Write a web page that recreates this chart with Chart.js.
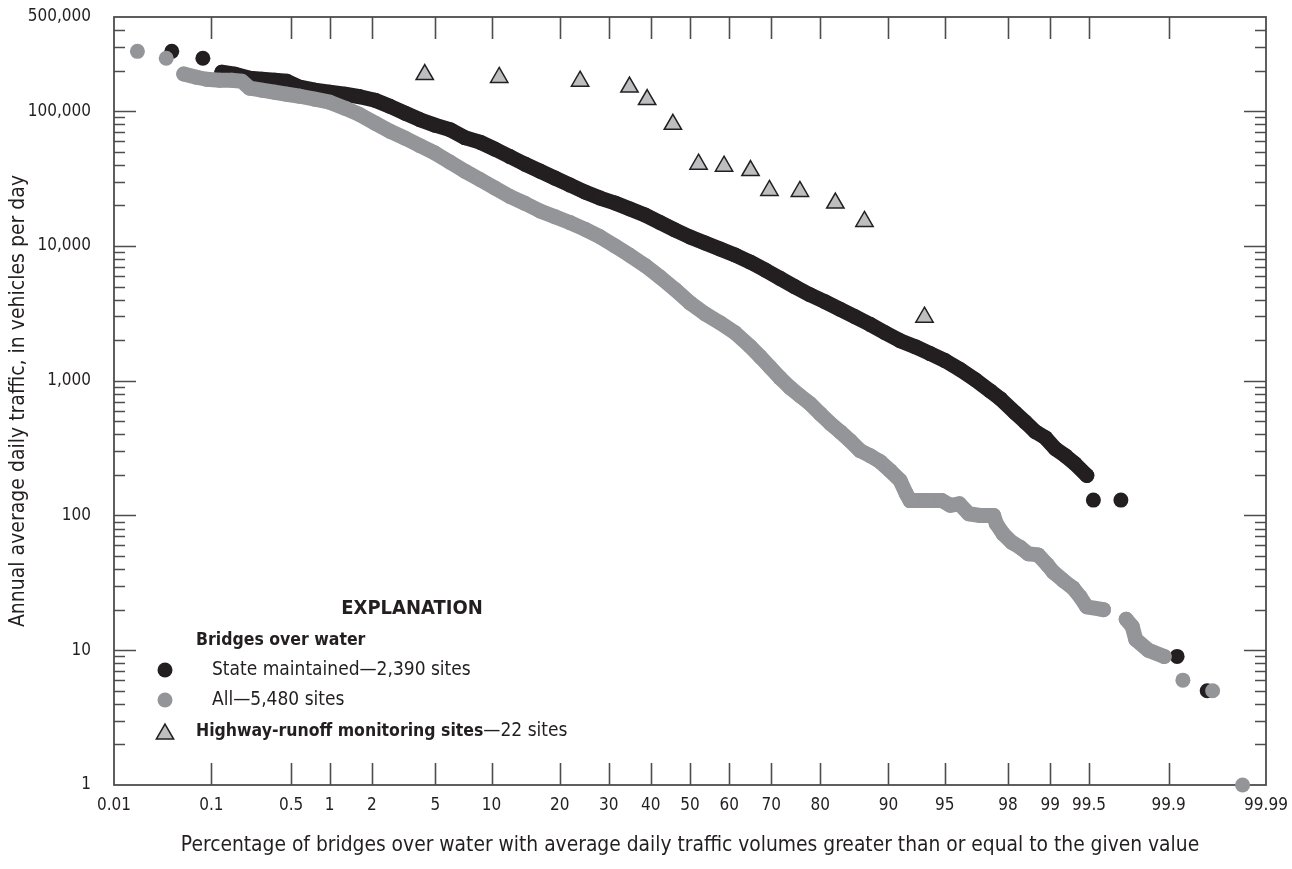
<!DOCTYPE html>
<html>
<head>
<meta charset="utf-8">
<title>Annual average daily traffic at bridges over water</title>
<script src="https://cdn.jsdelivr.net/npm/chart.js@4.4.1/dist/chart.umd.min.js"></script>
<style>
  html, body { margin: 0; padding: 0; background: #ffffff; }
  #wrap { width: 1292px; height: 869px; position: relative; }
</style>
</head>
<body>
<div id="wrap"><canvas id="chart" width="1292" height="869"></canvas></div>
<script>
// ---- Data: exceedance percentage (%) and annual average daily traffic (vehicles/day)

// Bridges over water, state maintained (2,390 sites)
const stateMaintainedPct = [0.041, 0.083, 0.125, 0.165, 0.224, 0.285, 0.367, 0.462, 0.588, 0.772,
  1.0, 1.294, 1.653, 2.10, 2.63, 3.29, 4.06, 4.98, 6.06, 7.30,
  8.75, 10.39, 12.25, 14.33, 16.64, 19.17, 21.92, 24.88, 28.06, 31.40,
  34.93, 38.57, 42.31, 46.14, 50.0, 53.86, 57.69, 61.43, 65.07, 68.60,
  71.94, 75.12, 78.08, 80.83, 83.36, 85.67, 87.75, 89.61, 91.25, 92.70,
  93.94, 95.02, 95.94, 96.71, 97.37, 97.74, 98.21, 98.48, 98.71, 98.91,
  99.08, 99.23, 99.35, 99.48, 99.54, 99.73, 99.917, 99.958];
const stateMaintainedAdt = [278000, 247000, 194500, 188000, 175500, 172600, 169600, 166800, 150600, 143100,
  138300, 133600, 128000, 120600, 108900, 96650, 86500, 78770, 72950, 63630,
  58940, 52290, 46030, 40500, 35940, 31890, 28300, 25120, 22680, 20830,
  18800, 16970, 14940, 13140, 11660, 10530, 9500, 8580, 7610, 6640,
  5750, 4970, 4340, 3850, 3390, 2980, 2620, 2270, 1980, 1790,
  1590, 1410, 1210, 1020, 840, 736, 579, 493, 419, 378,
  314, 278, 243, 198, 130, 130, 9, 5];

// Bridges over water, all (5,480 sites)
const allBridgesPct = [0.018, 0.036, 0.054, 0.072, 0.090, 0.120, 0.154, 0.19, 0.224, 0.285,
  0.367, 0.462, 0.588, 0.772, 1.0, 1.294, 1.653, 2.10, 2.63, 3.29,
  4.06, 4.98, 6.06, 7.30, 8.75, 10.39, 12.25, 14.33, 16.64, 19.17,
  21.92, 24.88, 28.06, 31.40, 34.93, 38.57, 42.31, 46.14, 50.0, 53.86,
  57.69, 61.43, 65.07, 67.44, 69.73, 71.94, 74.09, 76.12, 78.08, 79.95,
  81.71, 83.36, 84.92, 86.39, 87.75, 89.01, 90.18, 91.25, 91.85, 92.23,
  93.6, 94.8, 95.35, 95.9, 96.4, 96.95, 97.5, 97.6, 97.84, 98.12,
  98.35, 98.55, 98.77, 98.95, 99.05, 99.20, 99.33, 99.41, 99.48, 99.62,
  99.757, 99.785, 99.80, 99.846, 99.89, 99.927, 99.963, 99.982];
const allBridgesAdt = [278000, 247000, 189000, 178600, 172600, 169600, 169600, 166800, 148100, 143100,
  138300, 133600, 129100, 122700, 116600, 105300, 94200, 81500, 71100, 63100,
  55500, 48900, 41900, 35900, 31100, 26900, 23300, 20700, 18200, 16500,
  14900, 13300, 11700, 10000, 8500, 7170, 5890, 4760, 3780, 3140,
  2690, 2270, 1800, 1510, 1260, 1050, 888, 774, 675, 570,
  484, 419, 359, 303, 278, 251, 215, 182, 146, 129,
  129, 129, 119, 122, 103, 100, 100, 87, 73, 63,
  58, 52, 51, 43, 38, 33, 29, 25, 21, 20,
  17, 15, 12, 10, 9, 6, 5, 1];

// Highway-runoff monitoring sites (22 sites)
const runoffSitesPct = [4.34, 10.9, 23.9, 34.8, 39.1, 45.6, 52.2, 58.7, 65.2, 69.6, 76.1, 82.6, 87.0, 93.5];
const runoffSitesAdt = [187000, 178000, 167000, 151000, 122000, 80000, 40400, 39100, 36300, 25800, 25400, 20800, 15200, 2960];

// Axis ticks
const xTickPercents = [0.01, 0.1, 0.5, 1, 2, 5, 10, 20, 30, 40, 50, 60, 70, 80, 90, 95, 98, 99, 99.5, 99.9, 99.99];
const xTickLabels = ['0.01', '0.1', '0.5', '1', '2', '5', '10', '20', '30', '40', '50', '60', '70', '80', '90', '95', '98', '99', '99.5', '99.9', '99.99'];
const yTickValues = [1, 10, 100, 1000, 10000, 100000, 500000];

const xTitle = 'Percentage of bridges over water with average daily traffic volumes greater than or equal to the given value';
const yTitle = 'Annual average daily traffic, in vehicles per day';

// ---- Styling
const FONT = '"DejaVu Sans Condensed", "Liberation Sans Narrow", sans-serif';
const INK = '#231f20';
const AXIS = '#4d4d4f';
const BLACK = '#231f20';
const GRAY = '#939598';
const TRI_FILL = '#bcbec0';
const DOT_R = 7.5;
const TRI_R = 10;
const MAX_JOIN = 22; // points farther apart than this (px) are not bridged by the band

// Inverse of the standard normal CDF (Acklam's rational approximation),
// used to place percentages on a normal-probability axis.
function probit(p) {
  const a = [-3.969683028665376e+01, 2.209460984245205e+02, -2.759285104469687e+02, 1.383577518672690e+02, -3.066479806614716e+01, 2.506628277459239e+00];
  const b = [-5.447609879822406e+01, 1.615858368580409e+02, -1.556989798598866e+02, 6.680131188771972e+01, -1.328068155288572e+01];
  const c = [-7.784894002430293e-03, -3.223964580411365e-01, -2.400758277161838e+00, -2.549732539343734e+00, 4.374664141464968e+00, 2.938163982698783e+00];
  const d = [7.784695709041462e-03, 3.224671290700398e-01, 2.445134137142996e+00, 3.754408661907416e+00];
  const pl = 0.02425, ph = 1 - pl;
  let q, r;
  if (p < pl) {
    q = Math.sqrt(-2 * Math.log(p));
    return (((((c[0] * q + c[1]) * q + c[2]) * q + c[3]) * q + c[4]) * q + c[5]) / ((((d[0] * q + d[1]) * q + d[2]) * q + d[3]) * q + 1);
  }
  if (p <= ph) {
    q = p - 0.5; r = q * q;
    return (((((a[0] * r + a[1]) * r + a[2]) * r + a[3]) * r + a[4]) * r + a[5]) * q / (((((b[0] * r + b[1]) * r + b[2]) * r + b[3]) * r + b[4]) * r + 1);
  }
  q = Math.sqrt(-2 * Math.log(1 - p));
  return -(((((c[0] * q + c[1]) * q + c[2]) * q + c[3]) * q + c[4]) * q + c[5]) / ((((d[0] * q + d[1]) * q + d[2]) * q + d[3]) * q + 1);
}

const toPoints = (pct, adt) => pct.map((p, i) => ({ x: probit(p / 100), y: adt[i] }));
const bandColor = color => ctx =>
  Math.hypot(ctx.p1.x - ctx.p0.x, ctx.p1.y - ctx.p0.y) > MAX_JOIN ? 'rgba(0,0,0,0)' : color;

function dotSeries(label, pct, adt, color, order) {
  return {
    label, data: toPoints(pct, adt), order,
    showLine: true, clip: false,
    borderColor: color, borderWidth: DOT_R * 2,
    borderCapStyle: 'round', borderJoinStyle: 'round',
    segment: { borderColor: bandColor(color) },
    pointStyle: 'circle', pointRadius: DOT_R, pointHoverRadius: DOT_R,
    pointBackgroundColor: color, pointBorderWidth: 0
  };
}

// ---- Frame with inward tick marks on all four sides
const frameTicks = {
  id: 'frameTicks',
  beforeDatasetsDraw(chart) {
    const { ctx, chartArea: a, scales: { x, y } } = chart;
    ctx.save();
    ctx.strokeStyle = AXIS;
    ctx.lineWidth = 1.6;
    ctx.beginPath();
    xTickPercents.slice(1, -1).forEach(p => {
      const px = Math.round(x.getPixelForValue(probit(p / 100))) + 0.5;
      ctx.moveTo(px, a.bottom); ctx.lineTo(px, a.bottom - 22);
      ctx.moveTo(px, a.top); ctx.lineTo(px, a.top + 22);
    });
    for (let dec = 1; dec <= 100000; dec *= 10) {
      for (let m = 1; m <= 9; m++) {
        const v = m * dec;
        if (v >= 500000) break;
        if (v === 1) continue;
        const len = m === 1 ? 22 : 11;
        const py = Math.round(y.getPixelForValue(v)) + 0.5;
        ctx.moveTo(a.left, py); ctx.lineTo(a.left + len, py);
        ctx.moveTo(a.right, py); ctx.lineTo(a.right - len, py);
      }
    }
    ctx.stroke();
    ctx.lineWidth = 1.8;
    ctx.strokeRect(a.left, a.top, a.right - a.left, a.bottom - a.top);
    ctx.restore();
  }
};

// ---- Explanation block
const explanation = {
  id: 'explanation',
  afterDatasetsDraw(chart) {
    const ctx = chart.ctx;
    ctx.save();
    ctx.fillStyle = INK;
    ctx.textBaseline = 'middle';
    ctx.font = `bold 20px ${FONT}`;
    ctx.textAlign = 'center';
    ctx.fillText('EXPLANATION', 412, 609);
    ctx.textAlign = 'left';
    ctx.font = `bold 17.5px ${FONT}`;
    ctx.fillText('Bridges over water', 196, 640);
    ctx.font = `19px ${FONT}`;
    ctx.fillText('State maintained\u20142,390 sites', 212, 670);
    ctx.fillText('All\u20145,480 sites', 212, 700);
    ctx.font = `bold 17.5px ${FONT}`;
    const head = 'Highway-runoff monitoring sites';
    ctx.fillText(head, 196, 731);
    const w = ctx.measureText(head).width;
    ctx.font = `19px ${FONT}`;
    ctx.fillText('\u201422 sites', 196 + w, 731);

    ctx.fillStyle = BLACK;
    ctx.beginPath(); ctx.arc(165, 670, DOT_R, 0, Math.PI * 2); ctx.fill();
    ctx.fillStyle = GRAY;
    ctx.beginPath(); ctx.arc(165, 700, DOT_R, 0, Math.PI * 2); ctx.fill();
    const cx = 165, cy = 734, r = TRI_R;
    ctx.beginPath();
    ctx.moveTo(cx, cy - r);
    ctx.lineTo(cx + r * Math.sin(2 * Math.PI / 3), cy - r * Math.cos(2 * Math.PI / 3));
    ctx.lineTo(cx + r * Math.sin(4 * Math.PI / 3), cy - r * Math.cos(4 * Math.PI / 3));
    ctx.closePath();
    ctx.fillStyle = TRI_FILL; ctx.fill();
    ctx.strokeStyle = INK; ctx.lineWidth = 1.5; ctx.stroke();
    ctx.restore();
  }
};

Chart.defaults.font.family = FONT;
Chart.defaults.color = INK;

new Chart(document.getElementById('chart'), {
  type: 'scatter',
  data: {
    datasets: [
      {
        label: 'Highway-runoff monitoring sites', order: 0, clip: false,
        data: toPoints(runoffSitesPct, runoffSitesAdt),
        pointStyle: 'triangle', pointRadius: TRI_R, pointHoverRadius: TRI_R,
        pointBackgroundColor: TRI_FILL, pointBorderColor: INK, pointBorderWidth: 1.5
      },
      dotSeries('All', allBridgesPct, allBridgesAdt, GRAY, 1),
      dotSeries('State maintained', stateMaintainedPct, stateMaintainedAdt, BLACK, 2)
    ]
  },
  options: {
    responsive: false,
    animation: false,
    events: [],
    devicePixelRatio: 1,
    layout: { padding: { top: 17, right: 26, bottom: 0, left: 0 } },
    plugins: { legend: { display: false }, tooltip: { enabled: false } },
    scales: {
      x: {
        type: 'linear',
        min: probit(0.0001), max: probit(0.9999),
        afterBuildTicks: s => { s.ticks = xTickPercents.map(p => ({ value: probit(p / 100) })); },
        afterFit: s => { s.height = 84; s.paddingLeft = 0; s.paddingRight = 0; },
        grid: { display: false, drawTicks: false },
        border: { display: false },
        ticks: {
          autoSkip: false, maxRotation: 0, minRotation: 0, padding: 10,
          color: INK, font: { size: 17 },
          callback: (v, i) => xTickLabels[i]
        },
        title: {
          display: true, text: xTitle, color: INK,
          font: { size: 20.8 }, padding: { top: 0, bottom: 11 }
        }
      },
      y: {
        type: 'logarithmic',
        min: 1, max: 500000,
        afterBuildTicks: s => { s.ticks = yTickValues.map(v => ({ value: v })); },
        afterFit: s => { s.width = 114; s.paddingTop = 0; s.paddingBottom = 0; },
        grid: { display: false, drawTicks: false },
        border: { display: false },
        ticks: {
          autoSkip: false, padding: 23,
          color: INK, font: { size: 17 },
          callback: v => Number(v).toLocaleString('en-US')
        },
        title: {
          display: true, text: yTitle, color: INK,
          font: { size: 21 }, padding: { top: 6, bottom: 0 }
        }
      }
    }
  },
  plugins: [frameTicks, explanation]
});
</script>
</body>
</html>
